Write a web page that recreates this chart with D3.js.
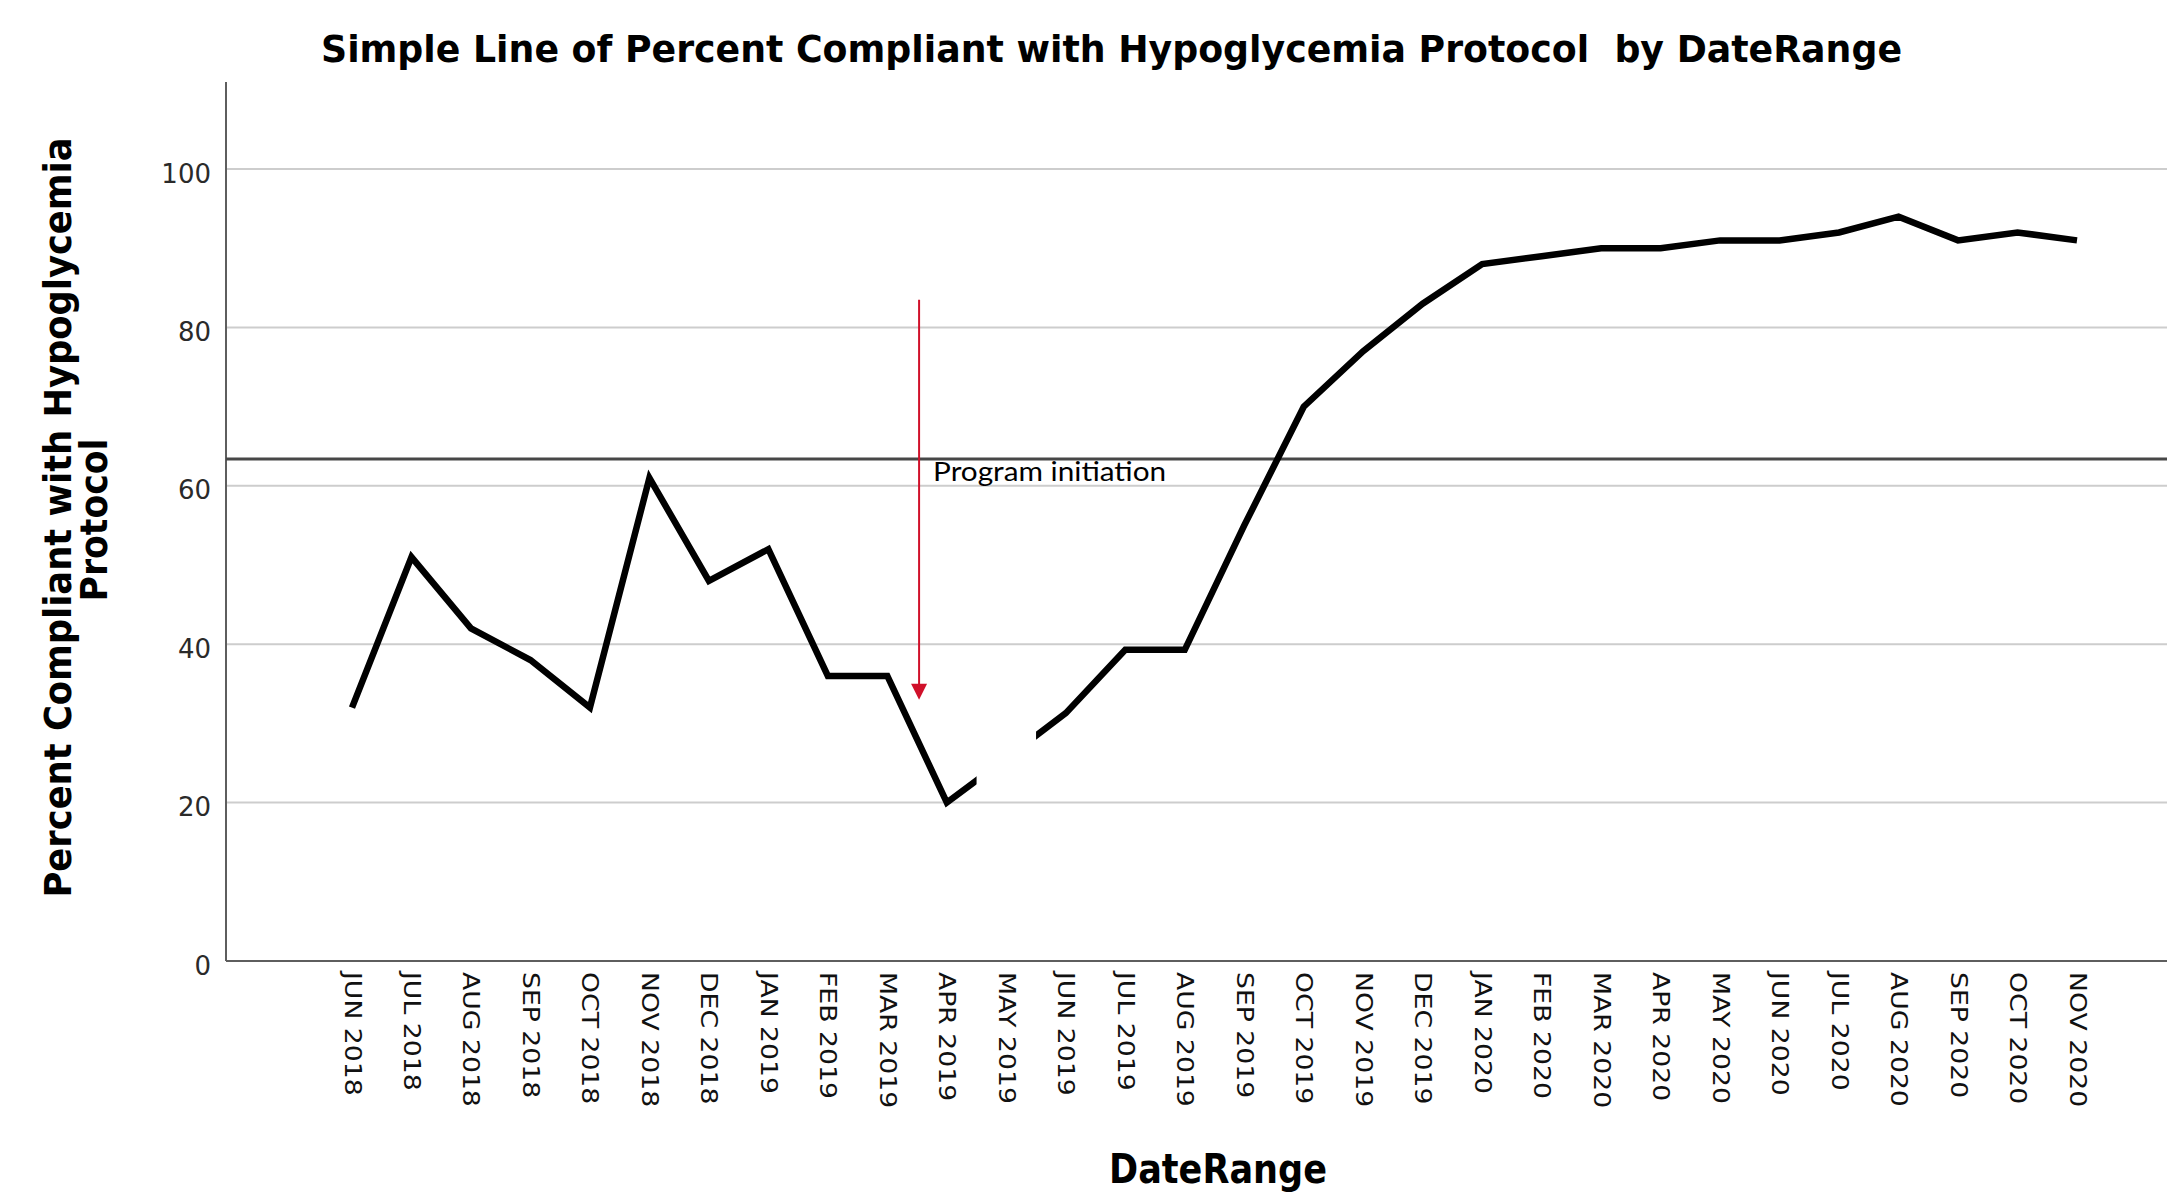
<!DOCTYPE html>
<html>
<head>
<meta charset="utf-8">
<script src="https://cdn.jsdelivr.net/npm/d3@7"></script>
<style>
  html, body { margin: 0; padding: 0; background: #fff; }
  svg { display: block; }
</style>
</head>
<body>
<div id="chart"></div>
<script>
// values
const months = [
  "JUN 2018", "JUL 2018", "AUG 2018", "SEP 2018", "OCT 2018", "NOV 2018",
  "DEC 2018", "JAN 2019", "FEB 2019", "MAR 2019", "APR 2019", "MAY 2019",
  "JUN 2019", "JUL 2019", "AUG 2019", "SEP 2019", "OCT 2019", "NOV 2019",
  "DEC 2019", "JAN 2020", "FEB 2020", "MAR 2020", "APR 2020", "MAY 2020",
  "JUN 2020", "JUL 2020", "AUG 2020", "SEP 2020", "OCT 2020", "NOV 2020"
];
const compliance = [
  32, 51, 42, 38, 32, 61, 48, 52, 36, 36, 20, 25.6,
  31.3, 39.3, 39.3, 55, 70, 77, 83, 88, 89, 90, 90, 91,
  91, 92, 94, 91, 92, 91
];
// the line is blanked out around this month in the original
const hiddenMonths = ["MAY 2019"];
const yTicks = [0, 20, 40, 60, 80, 100];
const refValue = 63.4;            // dark horizontal reference line
const arrowFrom = ["MAR 2019", "APR 2019"]; // arrow sits between these
const arrowTop = 83.5, arrowTip = 33;

const W = 2167, H = 1196;
const xLeft = 226, yBottom = 961, yTop = 82;

const x = d3.scalePoint().domain(months).range([352, 2077]);
const step = x.step();
const y = d3.scaleLinear().domain([0, 111]).range([yBottom, yTop]);

const svg = d3.select('#chart').append('svg')
    .attr('width', W)
    .attr('height', H);

// gridlines
svg.append('g')
    .selectAll('line')
    .data(yTicks.filter(d => d > 0))
    .join('line')
        .attr('x1', xLeft).attr('x2', W)
        .attr('y1', d => y(d)).attr('y2', d => y(d))
        .attr('stroke', '#cdcdcd')
        .attr('stroke-width', 2);

// y tick labels
let yAxis = d3.axisLeft(y).tickValues(yTicks).tickSize(0).tickPadding(15);
let gy = svg.append('g')
    .attr('transform', `translate(${xLeft},0)`)
    .call(yAxis);
gy.select('.domain').remove();
gy.selectAll('text')
    .attr('dy', null)
    .attr('y', 13)
    .style('font-family', 'DejaVu Sans')
    .style('font-size', '26px')
    .attr('fill', '#2a2a2a');

// x tick labels, rotated and squeezed like the original picture
let xAxis = d3.axisBottom(x).tickSize(0);
let gx = svg.append('g')
    .attr('transform', `translate(0,${yBottom})`)
    .call(xAxis);
gx.select('.domain').remove();
gx.selectAll('text')
    .attr('y', null).attr('dy', null)
    .attr('text-anchor', 'start')
    .attr('transform', 'translate(-8,11) rotate(90) scale(1,0.84)')
    .style('font-family', 'DejaVu Sans')
    .style('font-size', '26.7px')
    .attr('fill', '#111');

// axis lines
svg.append('line')
    .attr('x1', xLeft).attr('x2', xLeft)
    .attr('y1', yTop).attr('y2', yBottom)
    .attr('stroke', '#5e5e5e').attr('stroke-width', 2);
svg.append('line')
    .attr('x1', xLeft).attr('x2', W)
    .attr('y1', yBottom).attr('y2', yBottom)
    .attr('stroke', '#5e5e5e').attr('stroke-width', 2);

// reference line
svg.append('line')
    .attr('x1', xLeft).attr('x2', W)
    .attr('y1', y(refValue)).attr('y2', y(refValue))
    .attr('stroke', '#474747').attr('stroke-width', 3);

// mask that hides the line around the blanked months
let mask = svg.append('defs').append('mask').attr('id', 'gap');
mask.append('rect').attr('x', 0).attr('y', 0).attr('width', W).attr('height', H).attr('fill', '#fff');
mask.selectAll('rect.hole')
    .data(hiddenMonths)
    .join('rect')
        .attr('class', 'hole')
        .attr('x', d => x(d) - step / 2)
        .attr('y', 0)
        .attr('width', step)
        .attr('height', H)
        .attr('fill', '#000');

let series = months.map((m, i) => ({ month: m, value: compliance[i] }));
let line = d3.line()
    .x(d => x(d.month))
    .y(d => y(d.value));

svg.append('path')
    .datum(series)
    .attr('d', line)
    .attr('mask', 'url(#gap)')
    .attr('fill', 'none')
    .attr('stroke', '#000')
    .attr('stroke-width', 6.5)
    .attr('stroke-linejoin', 'miter')
    .attr('stroke-miterlimit', 10);

// program initiation arrow
let ax = (x(arrowFrom[0]) + x(arrowFrom[1])) / 2 + 2;
svg.append('line')
    .attr('x1', ax).attr('x2', ax)
    .attr('y1', y(arrowTop)).attr('y2', y(arrowTip) - 14)
    .attr('stroke', '#d0102a').attr('stroke-width', 2);
svg.append('path')
    .attr('d', d3.line()([[ax - 8, y(arrowTip) - 16], [ax + 8, y(arrowTip) - 16], [ax, y(arrowTip)]]) + 'Z')
    .attr('fill', '#d0102a');
svg.append('text')
    .attr('x', ax + 14)
    .attr('y', 481)
    .attr('textLength', 233)
    .attr('lengthAdjust', 'spacingAndGlyphs')
    .style('font-family', 'Lato, "Open Sans", sans-serif')
    .style('font-size', '26.5px')
    .attr('fill', '#000')
    .text('Program initiation');

// titles
svg.append('text')
    .attr('x', 321).attr('y', 62)
    .attr('textLength', 1581)
    .attr('lengthAdjust', 'spacingAndGlyphs')
    .style('white-space', 'pre')
    .style('font-family', 'DejaVu Sans')
    .style('font-weight', 'bold')
    .style('font-size', '37.5px')
    .text('Simple Line of Percent Compliant with Hypoglycemia Protocol  by DateRange');

svg.append('text')
    .attr('x', 1218).attr('y', 1183)
    .attr('text-anchor', 'middle')
    .attr('textLength', 218)
    .attr('lengthAdjust', 'spacingAndGlyphs')
    .style('font-family', 'DejaVu Sans')
    .style('font-weight', 'bold')
    .style('font-size', '40px')
    .text('DateRange');

const yTitle = [
  { text: 'Percent Compliant with Hypoglycemia', base: 70.5, cy: 517.5, len: 760 },
  { text: 'Protocol', base: 107, cy: 520, len: 163 }
];
svg.append('g')
    .selectAll('text')
    .data(yTitle)
    .join('text')
        .attr('transform', d => `translate(${d.base},${d.cy}) rotate(-90)`)
        .attr('text-anchor', 'middle')
        .attr('textLength', d => d.len)
        .attr('lengthAdjust', 'spacingAndGlyphs')
        .style('font-family', 'DejaVu Sans')
        .style('font-weight', 'bold')
        .style('font-size', '37px')
        .text(d => d.text);
</script>
</body>
</html>
